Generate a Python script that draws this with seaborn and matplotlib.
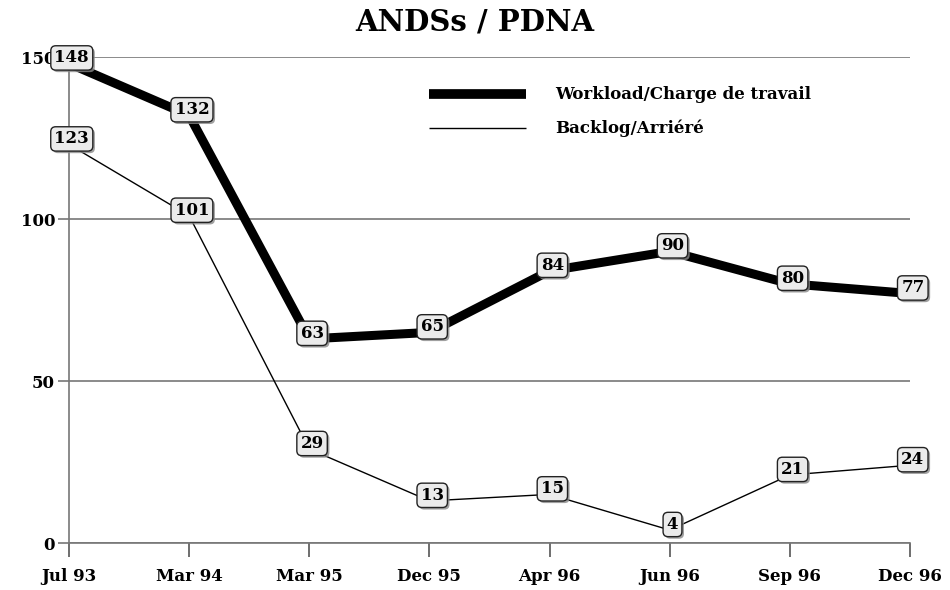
import pandas as pd
import matplotlib.pyplot as plt
import matplotlib.patheffects as pe
import seaborn as sns

# данные
periods = ['Jul 93', 'Mar 94', 'Mar 95', 'Dec 95', 'Apr 96', 'Jun 96', 'Sep 96', 'Dec 96']
workload = [148, 132, 63, 65, 84, 90, 80, 77]
backlog = [123, 101, 29, 13, 15, 4, 21, 24]
series_names = ['Workload/Charge de travail', 'Backlog/Arriéré']

df = pd.DataFrame({
    'period': periods * 2,
    'value': workload + backlog,
    'series': [series_names[0]] * len(periods) + [series_names[1]] * len(periods),
})
df['pos'] = list(range(len(periods))) * 2

sns.set_style('white')
plt.rcParams['font.family'] = ['DejaVu Serif']
plt.rcParams['font.weight'] = 'bold'
plt.rcParams['text.color'] = 'black'
plt.rcParams['xtick.labelcolor'] = 'black'
plt.rcParams['ytick.labelcolor'] = 'black'

fig = plt.figure(figsize=(9.5, 5.9), dpi=100)
ax = fig.add_axes([69 / 950, 1 - 543 / 590, (910 - 69) / 950, (543 - 57) / 590])

sns.lineplot(data=df, x='pos', y='value', hue='series', size='series',
             sizes={series_names[0]: 6.5, series_names[1]: 1.0},
             palette={series_names[0]: 'black', series_names[1]: 'black'},
             ax=ax, legend=False, zorder=3)

ax.set_xlim(0, len(periods) - 1)
ax.set_ylim(0, 150)
ax.set_yticks([0, 50, 100, 150])
ax.set_xticks(range(len(periods)))
ax.set_xticklabels(periods, fontsize=12, fontweight='bold', color='black')
ax.set_yticklabels(['0', '50', '100', '150'], fontsize=12, fontweight='bold', color='black')
ax.set_xlabel('')
ax.set_ylabel('')
ax.grid(axis='y', color='#777777', linewidth=1.2)
ax.grid(axis='x', visible=False)
for s in ['top', 'right']:
    ax.spines[s].set_visible(False)
ax.spines['left'].set_color('#777777')
ax.spines['bottom'].set_color('#777777')
ax.spines['left'].set_linewidth(1.2)
ax.spines['bottom'].set_linewidth(1.2)
ax.tick_params(axis='x', direction='out', length=10, width=1.2, color='#555555', pad=8)
ax.tick_params(axis='y', direction='out', length=8, width=1.2, color='#777777', pad=2)
ax.yaxis.set_ticks_position('left')
ax.xaxis.set_ticks_position('bottom')

# подписи в рамках
for vals in [workload, backlog]:
    for i, v in enumerate(vals):
        ann = ax.annotate(str(v), (i, v), xytext=(2, 4), textcoords='offset points',
                          ha='center', va='center', fontsize=12, fontweight='bold', zorder=5,
                          color='black',
                          bbox=dict(boxstyle='round,pad=0.22,rounding_size=0.3', fc='#ebebeb',
                                    ec='#222222', lw=1.0),
                          annotation_clip=False)
        ann.get_bbox_patch().set_path_effects([
            pe.SimplePatchShadow(offset=(1.5, -1.5), shadow_rgbFace='#888888', alpha=0.8),
            pe.Normal()])

# легенда
ax.plot([3.0, 3.8], [138.5, 138.5], color='black', lw=7, solid_capstyle='butt', clip_on=False)
ax.plot([3.0, 3.8], [128, 128], color='black', lw=1.0, solid_capstyle='butt', clip_on=False)
ax.text(4.05, 138.5, series_names[0], va='center', ha='left', fontsize=12, fontweight='bold')
ax.text(4.05, 128, series_names[1], va='center', ha='left', fontsize=12, fontweight='bold')

fig.text(475 / 950, 1 - 22 / 590, 'ANDSs / PDNA', ha='center', va='center',
         fontsize=21, fontweight='bold')

plt.savefig('out.png', dpi=100)
